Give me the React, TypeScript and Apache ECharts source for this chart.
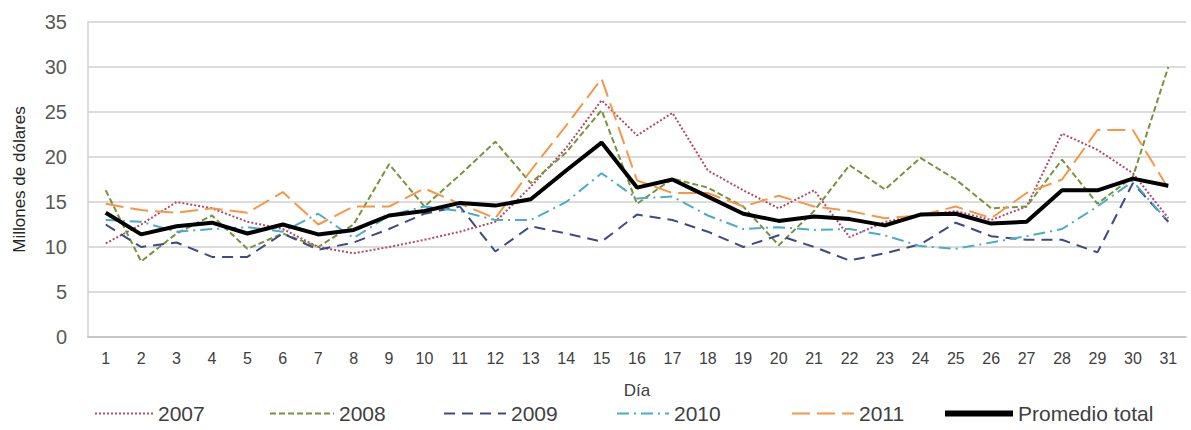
import React, { useEffect, useRef } from "react";
import * as echarts from "echarts";

const days = Array.from({ length: 31 }, (_, i) => String(i + 1));
const s2007 = [10.4, 12.5, 15.0, 14.3, 12.8, 12.0, 10.0, 9.3, 10.0, 10.8, 11.7, 12.8, 16.7, 21.0, 26.3, 22.4, 24.9, 18.5, 16.3, 14.3, 16.3, 11.1, 12.8, 13.5, 14.0, 13.0, 14.5, 22.6, 20.8, 18.2, 13.2];
const s2008 = [16.3, 8.4, 11.5, 13.5, 9.8, 11.5, 10.0, 12.5, 19.2, 14.5, 18.0, 21.7, 17.1, 20.5, 25.2, 14.8, 17.6, 16.6, 14.5, 10.2, 14.0, 19.1, 16.4, 19.9, 17.5, 14.3, 14.5, 19.7, 14.8, 17.8, 30.0];
const s2009 = [12.5, 10.0, 10.5, 8.9, 8.9, 11.5, 9.7, 10.5, 12.0, 13.7, 14.5, 9.5, 12.3, 11.5, 10.6, 13.6, 13.0, 11.7, 10.0, 11.3, 10.0, 8.5, 9.3, 10.3, 12.7, 11.2, 10.8, 10.8, 9.4, 17.1, 12.8];
const s2010 = [13.0, 12.8, 11.7, 12.0, 12.2, 11.7, 13.7, 11.0, 13.5, 14.5, 14.0, 13.0, 13.0, 15.0, 18.2, 15.4, 15.6, 13.5, 12.0, 12.2, 11.9, 12.0, 11.3, 10.1, 9.8, 10.5, 11.2, 12.0, 14.5, 17.3, 12.8];
const s2011 = [14.8, 14.1, 13.8, 14.3, 13.8, 16.1, 12.5, 14.5, 14.5, 16.5, 14.8, 13.2, 18.5, 23.5, 28.7, 17.4, 16.0, 16.0, 14.5, 15.7, 14.5, 14.0, 13.2, 13.5, 14.5, 13.2, 16.0, 17.5, 23.0, 23.0, 16.5];
const promedio = [13.8, 11.4, 12.3, 12.7, 11.5, 12.5, 11.4, 11.9, 13.5, 14.0, 14.9, 14.6, 15.3, 18.5, 21.6, 16.6, 17.5, 15.6, 13.7, 12.9, 13.4, 13.1, 12.4, 13.6, 13.7, 12.6, 12.8, 16.3, 16.3, 17.6, 16.8];
const seriesNames = ["2007", "2008", "2009", "2010", "2011", "Promedio total"];
const yTicks = [0, 5, 10, 15, 20, 25, 30, 35];

const FONT = "'Liberation Sans', Arial, sans-serif";
const TXT = "#404040";

export default function App() {
  const ref = useRef<HTMLDivElement>(null);
  useEffect(() => {
    if (!ref.current) return;
    const chart = echarts.init(ref.current, undefined, { renderer: "svg" });
    const mk = (name: string, data: number[], color: string, type: any, width: number) => ({
      name,
      type: "line",
      data,
      symbol: "none",
      z: name === "Promedio total" ? 10 : 2,
      lineStyle: { color, type, width },
      itemStyle: { color },
    });
    const legendLeft = [92, 267, 441, 614, 789, 940];
    const legendW = [58, 64, 62, 52, 62, 68];
    const legends = seriesNames.map((n, i) => ({
      data: [n],
      top: 401,
      left: legendLeft[i],
      itemWidth: legendW[i],
      itemHeight: 14,
      itemGap: 0,
      padding: 2,
      selectedMode: false,
      itemStyle: { opacity: 0 },
      lineStyle: n === "Promedio total" ? { width: 6 } : {},
      textStyle: { fontFamily: FONT, fontSize: 21, color: TXT },
    }));
    chart.setOption({
      animation: false,
      grid: { left: 88, right: 5, top: 22, bottom: 93 },
      legend: legends,
      xAxis: {
        type: "category",
        data: days,
        name: "Día",
        nameLocation: "middle",
        nameGap: 45,
        nameTextStyle: { fontFamily: FONT, fontSize: 17, color: TXT },
        axisLine: { lineStyle: { color: "#bfbfbf", width: 1.5 } },
        axisTick: { show: false },
        axisLabel: { fontFamily: FONT, fontSize: 16, color: TXT, margin: 13, interval: 0 },
      },
      yAxis: {
        type: "value",
        min: 0,
        max: 35,
        interval: 5,
        name: "Millones de dólares",
        nameLocation: "middle",
        nameGap: 60,
        nameTextStyle: { fontFamily: FONT, fontSize: 17, color: "#262626" },
        axisLine: { show: true, lineStyle: { color: "#d0d0d0", width: 1.5 } },
        axisTick: { show: false },
        axisLabel: { fontFamily: FONT, fontSize: 20, color: "#595959", margin: 21, formatter: (v: number) => (yTicks.includes(v) ? String(v) : "") },
        splitLine: { lineStyle: { color: "#d0d0d0", width: 1.5 } },
      },
      series: [
        mk("2007", s2007, "#b24a6a", [2, 2], 2),
        mk("2008", s2008, "#77933c", [6, 3], 2),
        mk("2009", s2009, "#3f4a85", [11, 7], 2),
        mk("2010", s2010, "#4bacc6", [12, 5, 2, 5], 2),
        mk("2011", s2011, "#f79646", [18, 7], 2),
        mk("Promedio total", promedio, "#000000", "solid", 4),
      ],
    });
    return () => chart.dispose();
  }, []);
  return <div ref={ref} style={{ position: "absolute", left: 0, top: 0, width: 1191, height: 430 }} />;
}
